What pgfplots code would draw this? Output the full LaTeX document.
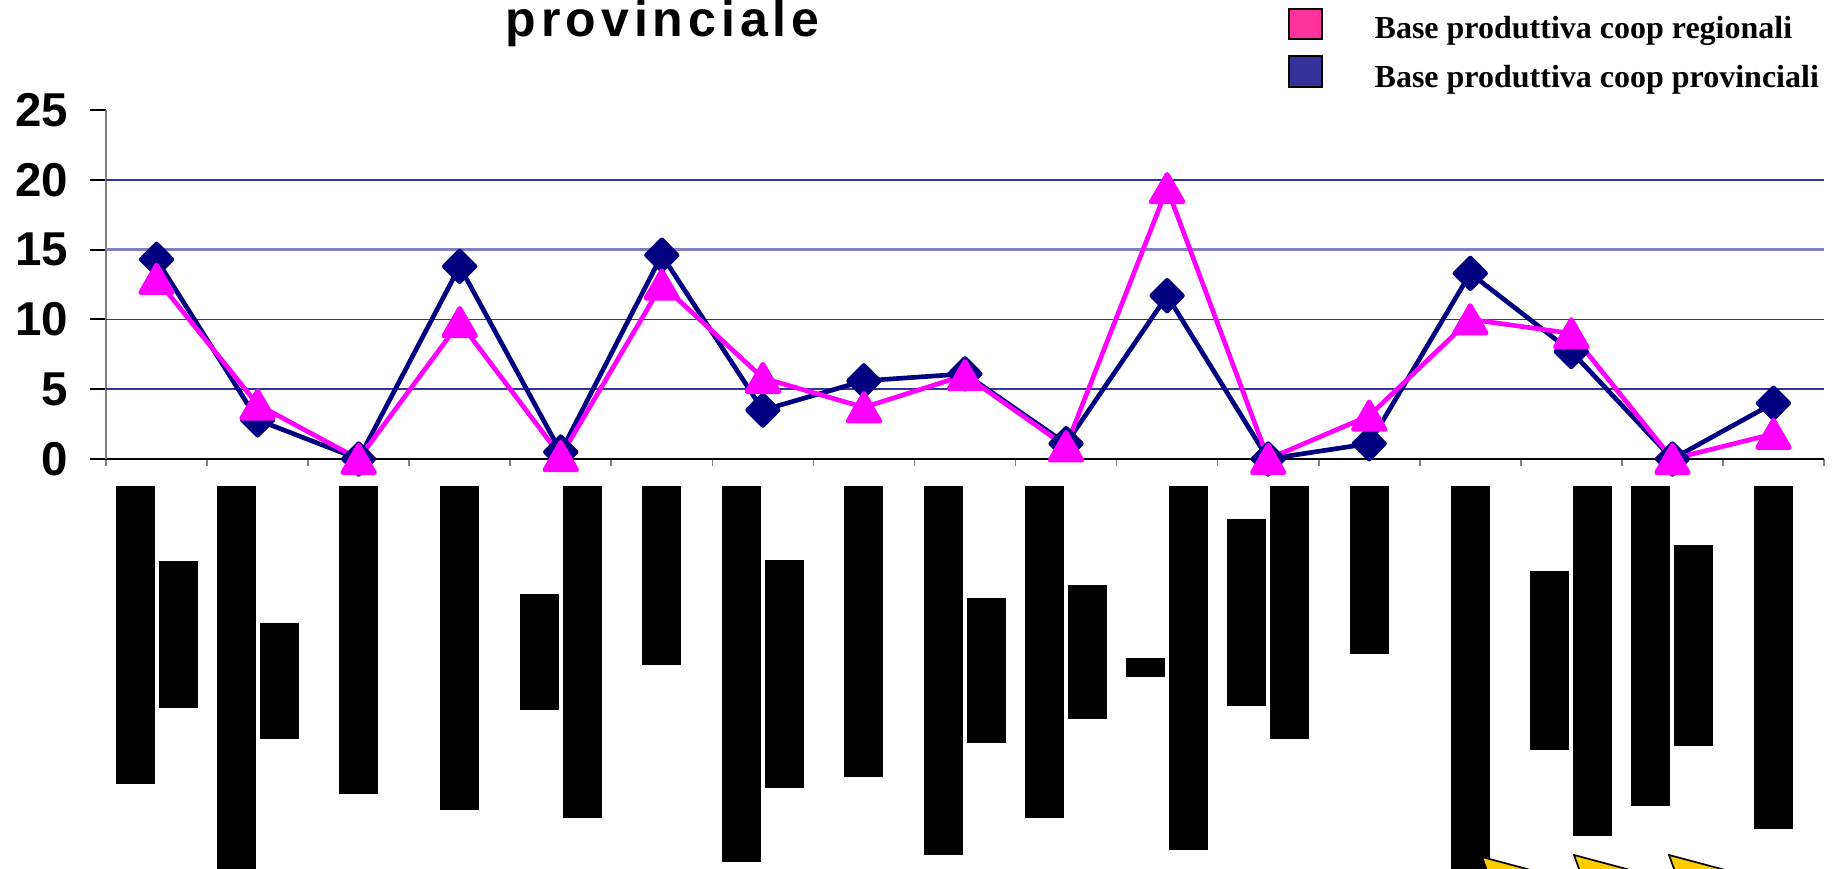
\documentclass[border=0pt]{standalone}
\usepackage{fontspec}
\setmainfont{Liberation Sans}
\newfontfamily\legfont{Liberation Serif}
\newfontfamily\titlefont[LetterSpace=10]{Liberation Sans}
\usepackage{pgfplots}
\pgfplotsset{compat=1.18}
\definecolor{navyline}{RGB}{0,0,128}
\definecolor{magline}{RGB}{255,0,255}
\definecolor{gridblue}{RGB}{51,51,153}
\definecolor{legpink}{RGB}{255,51,153}
\definecolor{legblue}{RGB}{51,51,153}
\definecolor{arrowyellow}{RGB}{255,204,0}
\newcommand{\lbA}[1]{\rule{11.7pt}{#1pt}}
\newcommand{\lbB}[2]{\raisebox{-0.5\height}{\rule{11.7pt}{#1pt}}\hspace{1.2pt}\raisebox{-0.5\height}{\rule{11.7pt}{#2pt}}}
\begin{document}
\begin{tikzpicture}
\useasboundingbox (0,0) rectangle (549.9pt,260.4pt);
\begin{axis}[
  at={(31.8pt,122.7pt)}, anchor=south west,
  scale only axis, width=515.4pt, height=104.7pt,
  xmin=-0.5, xmax=16.5, ymin=0, ymax=25,
  axis lines*=left,
  x axis line style={black, line width=0.6pt},
  y axis line style={gray, line width=0.6pt},
  xtick={0,...,16},
  xticklabels={{\lbB{89.4}{44.1}},{\lbB{117}{34.8}},{\lbA{92.4}},{\lbA{97.2}},{\lbB{34.8}{99.6}},{\lbA{53.7}},{\lbB{112.8}{68.4}},{\lbA{87.3}},{\lbB{110.7}{43.5}},{\lbB{99.6}{40.2}},{\lbB{5.7}{109.2}},{\lbB{56.1}{75.9}},{\lbA{50.4}},{\lbA{120}},{\lbB{53.7}{105}},{\lbB{96}{60.3}},{\lbA{102.9}}},
  minor xtick={-0.5,0.5,...,16.5},
  ytick={0,5,...,25},
  tick align=outside,
  major tick length=4.8pt,
  minor tick length=2.1pt,
  major x tick style={draw=none},
  minor x tick style={gray, line width=0.5pt},
  major y tick style={black, line width=0.6pt},
  xticklabel style={anchor=north, inner sep=0pt, yshift=-3pt},
  yticklabel style={font=\fontsize{14.25}{16}\selectfont\bfseries, anchor=east, inner sep=0pt, xshift=-6.3pt},
  /pgf/number format/assume math mode=true,
  extra y ticks={5,10,20},
  extra y tick labels={},
  extra y tick style={grid=major, major tick length=0pt},
  grid style={gridblue, line width=0.45pt},
  clip=false,
]
\addplot[forget plot, draw=none] coordinates {(-0.5,15) (16.5,15)};
\draw[color={rgb,255:red,128;green,128;blue,192}, line width=0.8pt] (axis cs:-0.5,15) -- (axis cs:16.5,15);
\addplot[navyline, line width=1.4pt, line join=round, mark=diamond*, mark size=4.6pt, mark options={xscale=1.33, solid, fill=navyline}]
  coordinates {(0,14.3) (1,2.8) (2,0) (3,13.8) (4,0.5) (5,14.6) (6,3.5) (7,5.6) (8,6.1) (9,1.1) (10,11.7) (11,0) (12,1.1) (13,13.3) (14,7.7) (15,0) (16,4.0)};
\addplot[magline, line width=1.4pt, line join=round, mark=triangle*, mark size=5.5pt, mark options={yshift=-1.35pt, solid, fill=magline}]
  coordinates {(0,12.9) (1,3.9) (2,0) (3,9.8) (4,0.2) (5,12.5) (6,5.8) (7,3.7) (8,6.0) (9,0.9) (10,19.4) (11,0) (12,3.1) (13,10.0) (14,9.0) (15,0) (16,1.8)};
\end{axis}
\begin{scope}[yshift=260.4pt, x=0.3pt, y=-0.3pt]
  \node[anchor=base west, inner sep=0pt, font=\titlefont\fontsize{15}{17}\selectfont\bfseries] at (505,37) {provinciale};
  \filldraw[fill=legpink, draw=black, line width=0.45pt] (1289,9) rectangle (1322,39);
  \filldraw[fill=legblue, draw=black, line width=0.45pt] (1289,56) rectangle (1322,87);
  \node[anchor=base west, inner sep=0pt, font=\legfont\fontsize{9.6}{11}\selectfont\bfseries] at (1374,39) {Base produttiva coop regionali};
  \node[anchor=base west, inner sep=0pt, font=\legfont\fontsize{9.6}{11}\selectfont\bfseries] at (1374,87) {Base produttiva coop provinciali};
  \foreach \ax/\ay in {1482/857,1574/855,1669/855}
    \filldraw[fill=arrowyellow, draw=black, line width=0.5pt] (\ax,\ay) -- ++(60,16) -- ++(-52,6) -- cycle;
\end{scope}
\end{tikzpicture}
\end{document}
